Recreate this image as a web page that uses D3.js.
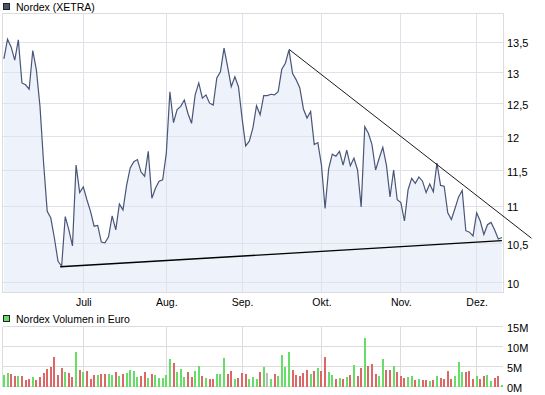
<!DOCTYPE html>
<html>
<head>
<meta charset="utf-8">
<script src="https://cdn.jsdelivr.net/npm/d3@7"></script>
<style>
  body { margin: 0; background: #fff; }
  svg { display: block; font-family: "Liberation Sans", Arial, sans-serif; }
</style>
</head>
<body>
<svg width="545" height="395"></svg>
<script>
// daily closes (XETRA), one per trading day, 1 June - 10 Dec
const closes = [
  13.22, 13.55, 13.42, 13.20, 13.54, 12.83, 12.80, 12.73, 13.36, 13.04,
  12.46, 11.61, 10.93, 10.84, 10.57, 10.27, 10.21, 10.86, 10.68, 10.47,
  11.58, 11.19, 11.27, 11.09, 10.93, 10.73, 10.74, 10.52, 10.51, 10.59,
  10.87, 10.68, 11.03, 10.95, 11.29, 11.54, 11.63, 11.66, 11.48, 11.42,
  11.78, 11.11, 11.25, 11.35, 11.37, 11.75, 12.69, 12.21, 12.41, 12.46,
  12.56, 12.35, 12.20, 12.64, 12.83, 12.59, 12.64, 12.51, 12.48, 12.91,
  13.01, 13.40, 13.09, 12.77, 12.93, 12.77, 12.28, 11.86, 11.93, 12.13,
  12.47, 12.33, 12.63, 12.63, 12.65, 12.64, 12.69, 13.05, 13.15, 13.37,
  12.98, 12.88, 12.75, 12.42, 12.28, 12.38, 11.88, 11.91, 11.58, 10.97,
  11.53, 11.74, 11.71, 11.78, 11.58, 11.80, 11.57, 11.68, 11.51, 10.99,
  12.15, 12.05, 11.88, 11.51, 11.68, 11.84, 11.58, 11.13, 11.51, 11.09,
  11.05, 10.80, 11.23, 11.39, 11.32, 11.41, 11.35, 11.19, 11.31, 11.20,
  11.61, 11.29, 11.28, 10.91, 10.82, 10.97, 11.13, 11.22, 10.67, 10.65,
  10.60, 10.91, 10.80, 10.62, 10.75, 10.78, 10.68, 10.56, 10.58
];

// daily volume in million euro
const volumes = [
  3.1, 3.4, 3.2, 2.7, 2.7, 2.7, 1.7, 1.9, 2.4, 1.7,
  2.4, 3.4, 4.4, 4.9, 7.4, 2.9, 4.7, 3.7, 3.4, 2.4,
  8.7, 4.2, 3.7, 3.9, 1.9, 2.9, 2.9, 3.2, 3.2, 3.2,
  2.9, 3.7, 2.7, 3.2, 3.4, 4.2, 3.9, 2.4, 2.7, 3.7,
  2.2, 3.2, 2.9, 2.2, 2.2, 2.9, 6.9, 5.9, 3.7, 4.4,
  2.4, 3.7, 2.4, 3.9, 5.2, 2.7, 2.2, 1.9, 1.9, 3.2,
  3.2, 7.2, 3.2, 3.9, 1.9, 2.2, 3.4, 3.2, 1.9, 2.4,
  1.9, 3.7, 4.9, 3.4, 1.9, 3.2, 2.7, 7.9, 4.9, 8.7,
  4.2, 2.9, 2.7, 3.4, 4.2, 3.2, 3.9, 4.7, 4.0, 7.4,
  3.7, 2.9, 1.9, 2.2, 1.9, 2.4, 2.9, 5.4, 2.7, 4.7,
  12.2, 5.2, 5.7, 3.2, 2.7, 6.9, 4.2, 4.2, 5.2, 3.7,
  2.7, 2.2, 2.4, 2.7, 1.7, 1.9, 1.7, 1.7, 1.4, 1.7,
  2.7, 2.2, 1.9, 3.9, 1.9, 2.7, 6.2, 3.7, 3.7, 3.9,
  1.9, 2.7, 1.9, 2.7, 2.9, 1.4, 2.2, 2.7, 0.4
];

// first trading day of each month (index into closes)
const monthStart = [22, 45, 66, 88, 110, 131];
const monthLabels = ["Juli", "Aug.", "Sep.", "Okt.", "Nov.", "Dez."];

const priceTicks = [10, 10.5, 11, 11.5, 12, 12.5, 13, 13.5];
const volumeTicks = [0, 5, 10, 15];

// trend lines: [day index, price]
const trendUpper = [[79, 13.38], [146.2, 10.57]];
const trendLower = [[15.6, 10.20], [138, 10.538]];

const svg = d3.select("svg"),
    left = 3, right = 503,
    priceTop = 13, priceBottom = 293,
    volTop = 327, volBottom = 387;

const gridColor = "#dcdcdc";
const px = v => Math.floor(v) + 0.5;

const x = d3.scaleLinear().domain([0, closes.length - 1]).range([3.9, 501.9]);
const y = d3.scaleLog().domain([9.872, 14.0]).range([priceBottom, priceTop]);
const yv = d3.scaleLinear().domain([0, 15]).range([volBottom, volTop]);

// ---- price panel ----
const grid = svg.append("g").attr("stroke", gridColor).attr("shape-rendering", "crispEdges");

grid.selectAll(".hp")
    .data(priceTicks)
    .enter().append("line")
    .attr("x1", left).attr("x2", right)
    .attr("y1", d => px(y(d))).attr("y2", d => px(y(d)));

grid.selectAll(".vp")
    .data(monthStart)
    .enter().append("line")
    .attr("x1", d => px(x(d))).attr("x2", d => px(x(d)))
    .attr("y1", priceTop).attr("y2", priceBottom);

const area = d3.area()
    .x((d, i) => x(i))
    .y0(priceBottom)
    .y1(d => y(d));

svg.append("path")
    .datum(closes)
    .attr("fill", "#eef2fb")
    .attr("d", area);

// redraw grid over the fill lightly
const grid2 = svg.append("g").attr("stroke", "#dfe2ea").attr("shape-rendering", "crispEdges");
grid2.selectAll("line")
    .data(priceTicks)
    .enter().append("line")
    .attr("x1", left).attr("x2", right)
    .attr("y1", d => px(y(d))).attr("y2", d => px(y(d)));
grid2.selectAll(".v")
    .data(monthStart)
    .enter().append("line")
    .attr("x1", d => px(x(d))).attr("x2", d => px(x(d)))
    .attr("y1", priceTop).attr("y2", priceBottom);

// frame
svg.append("rect")
    .attr("x", left - 0.5).attr("y", priceTop + 0.5)
    .attr("width", right - left + 1).attr("height", priceBottom - priceTop - 1)
    .attr("fill", "none")
    .attr("stroke", gridColor)
    .attr("shape-rendering", "crispEdges");

svg.append("path")
    .datum(closes)
    .attr("fill", "none")
    .attr("stroke", "#4a5677")
    .attr("stroke-width", 1.2)
    .attr("d", d3.line().x((d, i) => x(i)).y(d => y(d)));

svg.append("path")
    .datum(trendLower)
    .attr("fill", "none")
    .attr("stroke", "#000")
    .attr("stroke-width", 1.4)
    .attr("d", d3.line().x(d => x(d[0])).y(d => y(d[1])));

svg.append("path")
    .datum(trendUpper)
    .attr("fill", "none")
    .attr("stroke", "#000")
    .attr("stroke-width", 0.9)
    .attr("d", d3.line().x(d => x(d[0])).y(d => y(d[1])));

// price axis on the right
svg.append("g")
    .attr("transform", `translate(${right},0)`)
    .call(d3.axisRight(y).tickValues(priceTicks).tickSize(0).tickPadding(4)
        .tickFormat(d => String(d).replace(".", ",")))
    .call(g => g.select(".domain").remove())
    .selectAll("text")
    .attr("dy", "0.42em")
    .attr("font-family", "Liberation Sans, Arial, sans-serif")
    .attr("font-size", 11)
    .attr("fill", "#000");

// month axis
svg.append("g")
    .attr("transform", `translate(0,${priceBottom})`)
    .call(d3.axisBottom(x).tickValues(monthStart).tickSize(0).tickPadding(6)
        .tickFormat((d, i) => monthLabels[i]))
    .call(g => g.select(".domain").remove())
    .selectAll("text")
    .attr("font-family", "Liberation Sans, Arial, sans-serif")
    .attr("font-size", 10.5)
    .attr("fill", "#000");

// legend
svg.append("rect")
    .attr("x", 3.5).attr("y", 3.5).attr("width", 6).attr("height", 6)
    .attr("fill", "#4a5470").attr("stroke", "#222");
svg.append("text")
    .attr("x", 16).attr("y", 10.5)
    .attr("font-size", 10.5)
    .text("Nordex (XETRA)");

// ---- volume panel ----
const vgrid = svg.append("g").attr("stroke", gridColor).attr("shape-rendering", "crispEdges");
vgrid.selectAll(".hv")
    .data(volumeTicks)
    .enter().append("line")
    .attr("x1", left).attr("x2", right)
    .attr("y1", d => px(yv(d) - 0.5)).attr("y2", d => px(yv(d) - 0.5));
vgrid.selectAll(".vv")
    .data(monthStart)
    .enter().append("line")
    .attr("x1", d => px(x(d))).attr("x2", d => px(x(d)))
    .attr("y1", volTop).attr("y2", volBottom);
vgrid.append("line")
    .attr("x1", left - 0.5).attr("x2", left - 0.5)
    .attr("y1", volTop).attr("y2", volBottom);

const barColor = i => {
    if (i === 0) return "#66dd66";
    const diff = closes[i] - closes[i - 1];
    if (diff > 0) return "#66dd66";
    if (diff < 0) return "#dd6666";
    return "#bbbbbb";
};

svg.selectAll(".bar")
    .data(volumes)
    .enter().append("rect")
    .attr("class", "bar")
    .attr("x", (d, i) => Math.round(x(i) - 1))
    .attr("y", d => yv(d))
    .attr("width", 2)
    .attr("height", d => volBottom - yv(d))
    .attr("fill", (d, i) => barColor(i))
    .attr("shape-rendering", "crispEdges");

svg.append("g")
    .attr("transform", `translate(${right},0)`)
    .call(d3.axisRight(yv).tickValues(volumeTicks).tickSize(0).tickPadding(4)
        .tickFormat(d => d + "M"))
    .call(g => g.select(".domain").remove())
    .selectAll("text")
    .attr("dy", "0.4em")
    .attr("font-family", "Liberation Sans, Arial, sans-serif")
    .attr("font-size", 11)
    .attr("fill", "#000");

svg.append("rect")
    .attr("x", 3.5).attr("y", 315.5).attr("width", 6).attr("height", 6)
    .attr("fill", "#66dd66").attr("stroke", "#222");
svg.append("text")
    .attr("x", 16).attr("y", 323)
    .attr("font-size", 10.5)
    .text("Nordex Volumen in Euro");
</script>
</body>
</html>
